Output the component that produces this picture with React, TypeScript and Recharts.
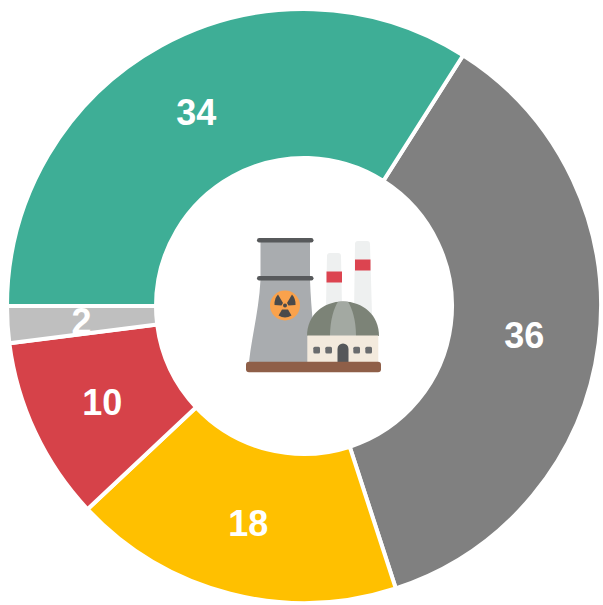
import React from "react";
import { PieChart, Pie, Cell } from "recharts";

const shareNames = ["A", "B", "C", "D", "E"];
const shareValues = [36, 18, 10, 2, 34];
const shareColors = ["#808080", "#FFC000", "#D64249", "#BFBFBF", "#3EAE96"];

const chartData = shareNames.map((name, i) => ({ name, value: shareValues[i] }));
const RAD = Math.PI / 180;

function renderLabel(p: any) {
  const r = (p.innerRadius + p.outerRadius) / 2;
  const x = p.cx + r * Math.cos(-p.midAngle * RAD);
  const y = p.cy + r * Math.sin(-p.midAngle * RAD);
  return (
    <text
      x={x - 0.5}
      y={y + 1.5}
      fill="#fff"
      textAnchor="middle"
      dominantBaseline="central"
      style={{ fontFamily: "'Liberation Sans', Arial, sans-serif", fontWeight: 700, fontSize: 36 }}
    >
      {p.value}
    </text>
  );
}

function PlantIcon() {
  return (
    <svg width={603} height={605} style={{ position: "absolute", left: 0, top: 0, pointerEvents: "none" }}>
      {/* chimneys */}
      <path d="M327 256 q0 -3 3 -3 h8 q3 0 3 3 l1 50 h-16 z" fill="#EEF0F0" />
      <path d="M355 244 q0 -3 3 -3 h9 q3 0 3 3 l2 70 h-18 z" fill="#EEF0F0" />
      <rect x={326.5} y={271.5} width={15.5} height={11} fill="#DC4450" />
      <rect x={355} y={259.5} width={15.5} height={11} fill="#DC4450" />
      {/* tower */}
      <path d="M260.5 242 H310 V276 H260.5 Z" fill="#A9ACAF" />
      <path d="M260.5 280 H310 C311 310 315 340 316 362 H249 C252 335 259 310 260.5 280 Z" fill="#A9ACAF" />
      <rect x={257} y={238} width={56.5} height={4.5} rx={2.2} fill="#57595B" />
      <rect x={257} y={276} width={56.5} height={4.5} rx={2.2} fill="#57595B" />
      {/* radiation badge */}
      <circle cx={285} cy={305.5} r={15} fill="#F9A24C" />
      <circle cx={285} cy={305.5} r={2} fill="#4A4A4A" />
      <path d="M283 302 L278 293.5 A14 14 0 0 0 274.5 304 L281.5 304.5 Z" fill="#4A4A4A" transform="translate(0,1)" />
      <path d="M287 302 L292 293.5 A14 14 0 0 1 295.5 304 L288.5 304.5 Z" fill="#4A4A4A" transform="translate(0,1)" />
      <path d="M282 309.5 L278.5 315.5 A12 12 0 0 0 291.5 315.5 L288 309.5 Z" fill="#4A4A4A" />
      {/* dome */}
      <path d="M307 336 C307 315 323 301.5 343 301.5 C363 301.5 379 315 379 336 Z" fill="#7C8377" />
      <path d="M330 336 C330 320 334 308 338 301.8 C341 301.4 345 301.4 348 301.8 C352 308 356 320 356 336 Z" fill="#A3A9A2" />
      {/* building */}
      <rect x={307.3} y={335.5} width={71} height={27} fill="#F3EADD" />
      <path d="M337.5 362 V349 a5.5 5.5 0 0 1 11 0 V362 Z" fill="#55575A" />
      <rect x={313.3} y={346.7} width={6.7} height={6.7} rx={1.5} fill="#6A6C6E" />
      <rect x={325.3} y={346.7} width={6.7} height={6.7} rx={1.5} fill="#6A6C6E" />
      <rect x={353.3} y={346.7} width={6.7} height={6.7} rx={1.5} fill="#6A6C6E" />
      <rect x={365.3} y={346.7} width={6.7} height={6.7} rx={1.5} fill="#6A6C6E" />
      {/* ground */}
      <rect x={246} y={361.7} width={135} height={10.6} rx={3} fill="#8F5F48" />
    </svg>
  );
}

export default function App() {
  return (
    <div style={{ position: "absolute", left: 0, top: 0, width: 603, height: 605, background: "#fff" }}>
      <PieChart width={603} height={605} margin={{ top: 0, right: 0, bottom: 0, left: 0 }}>
        <Pie
          data={chartData}
          dataKey="value"
          nameKey="name"
          cx={304}
          cy={306}
          innerRadius={148}
          outerRadius={297}
          startAngle={57.6}
          endAngle={-302.4}
          paddingAngle={0}
          stroke="#fff"
          strokeWidth={4}
          label={renderLabel}
          labelLine={false}
          isAnimationActive={false}
        >
          {shareColors.map((c, i) => (
            <Cell key={i} fill={c} />
          ))}
        </Pie>
      </PieChart>
      <PlantIcon />
    </div>
  );
}
